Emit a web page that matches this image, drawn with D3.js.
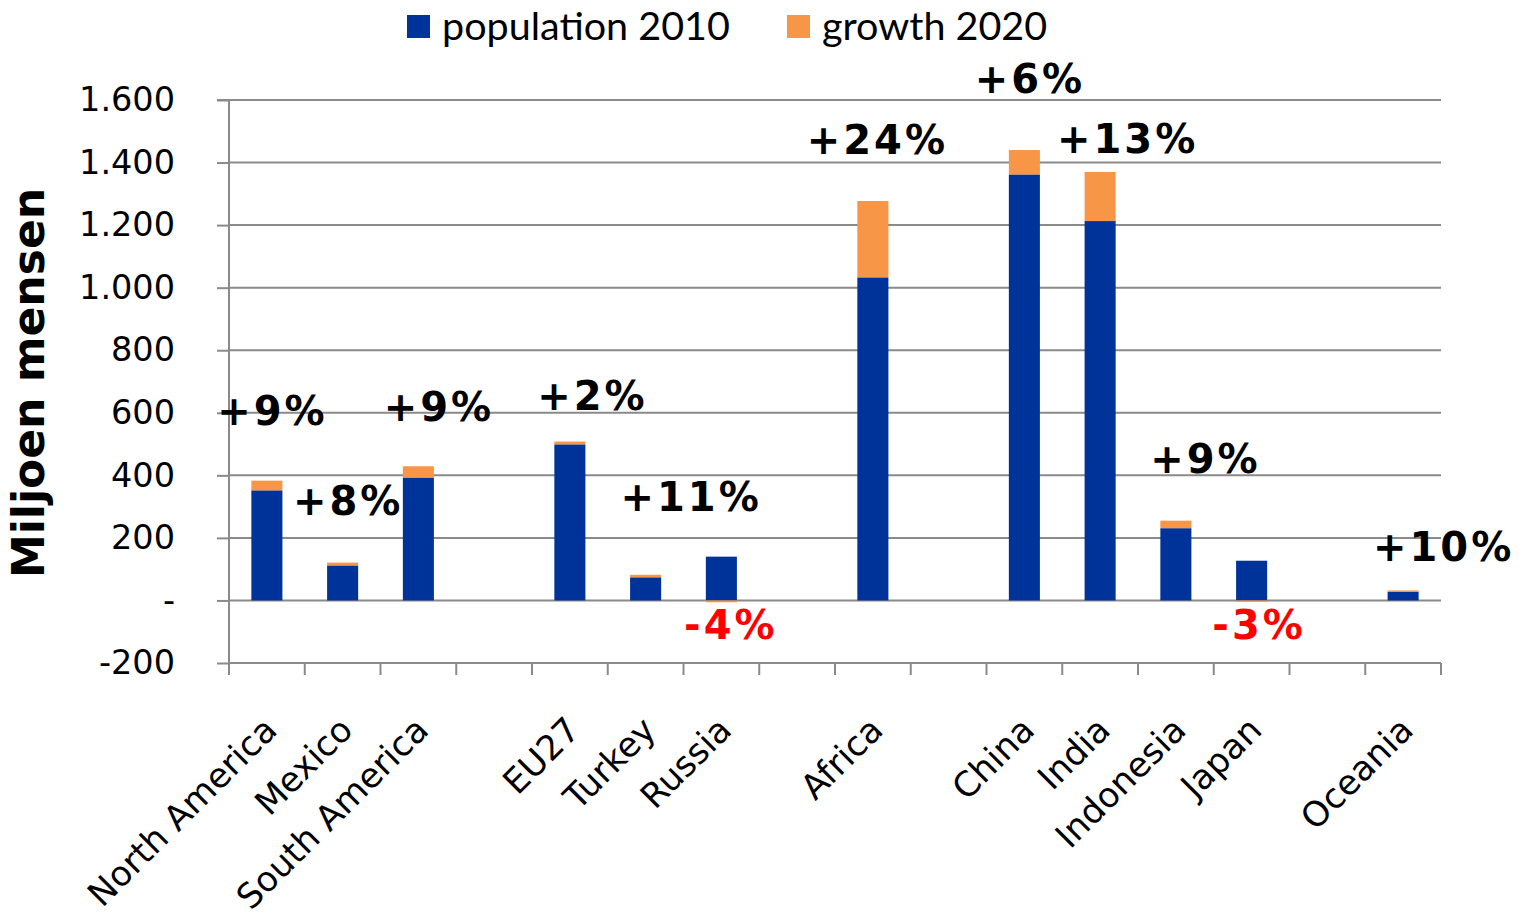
<!DOCTYPE html>
<html>
<head>
<meta charset="utf-8">
<script src="https://cdn.jsdelivr.net/npm/d3@7"></script>
<style>
  html, body { margin: 0; padding: 0; background: #fff; }
  svg { display: block; }
</style>
</head>
<body>
<svg id="chart" width="1529" height="916"></svg>
<script>
// ---- data ----
const categories = ["North America", "Mexico", "South America", "", "EU27", "Turkey", "Russia", "",
  "Africa", "", "China", "India", "Indonesia", "Japan", "", "Oceania"];
const population2010 = [352, 112, 393, 0, 499, 74, 140, 0, 1033, 0, 1362, 1213, 231, 127, 0, 27];
const growth2020 = [31, 9, 36, 0, 9, 8, -6, 0, 244, 0, 78, 157, 24, -4, 0, 5];
const growthLabels = ["+9%", "+8%", "+9%", "", "+2%", "+11%", "-4%", "", "+24%", "", "+6%", "+13%", "+9%", "-3%", "", "+10%"];
const yTicks = [-200, 0, 200, 400, 600, 800, 1000, 1200, 1400, 1600];
const seriesNames = ["population 2010", "growth 2020"];

// ---- layout (hand-placed label offsets, px) ----
const labelOffsets = [[4, -70], [4, -62], [19, -60], [0, 0], [21, -46], [44, -78], [8, 24], [0, 0],
  [3, -61], [0, 0], [4, -71], [26, -33], [28, -62], [6, 24], [0, 0], [39, -44]];
const colors = { pop: "#003399", growth: "#F79646" };

const svg = d3.select("#chart");
const plot = { left: 229, right: 1441, top: 100, bottom: 663 };

const rows = categories.map((c, i) => ({ idx: i, cat: c, pop: population2010[i], growth: growth2020[i] }));

const x = d3.scaleBand().domain(d3.range(categories.length)).range([plot.left, plot.right]).padding(0);
const y = d3.scaleLinear().domain([-200, 1600]).range([plot.bottom, plot.top]);

const locale = d3.formatLocale({ decimal: ",", thousands: ".", grouping: [3], currency: ["", ""], minus: "-" });
const fmt = locale.format(",");

// gridlines
svg.append("g").selectAll("line").data(yTicks).join("line")
  .attr("x1", plot.left).attr("x2", plot.right)
  .attr("y1", d => y(d)).attr("y2", d => y(d))
  .attr("stroke", "#8a8a8a").attr("stroke-width", 2);

// y axis
const yAxis = d3.axisLeft(y).tickValues(yTicks).tickSize(12).tickPadding(42)
  .tickFormat(d => d === 0 ? "-" : fmt(d));
const gy = svg.append("g").attr("transform", `translate(${plot.left},0)`).call(yAxis);
gy.select(".domain").attr("stroke", "#8a8a8a").attr("stroke-width", 2)
  .attr("d", `M-12,${plot.top}H0V${plot.bottom + 12}`);
gy.selectAll(".tick line").attr("stroke", "#8a8a8a").attr("stroke-width", 2);
gy.selectAll(".tick text").attr("font-family", "DejaVu Sans").attr("font-size", 33.5).attr("fill", "#000");

// x axis ticks (category boundaries) at bottom
const boundaries = d3.range(categories.length + 1).map(i => i === categories.length ? plot.right : x(i));
svg.append("g").selectAll("line").data(boundaries).join("line")
  .attr("x1", d => d).attr("x2", d => d)
  .attr("y1", plot.bottom).attr("y2", plot.bottom + 12)
  .attr("stroke", "#8a8a8a").attr("stroke-width", 2);

// stacked bars
const stack = d3.stack().keys(["pop", "growth"]).offset(d3.stackOffsetDiverging);
const series = stack(rows);
const barW = x.bandwidth() * 0.41;
svg.append("g").selectAll("g").data(series).join("g")
  .attr("fill", s => colors[s.key])
  .selectAll("rect").data(s => s.filter(d => d[1] !== d[0])).join("rect")
  .attr("x", d => x(d.data.idx) + (x.bandwidth() - barW) / 2)
  .attr("width", barW)
  .attr("y", d => y(Math.max(d[0], d[1])))
  .attr("height", d => Math.abs(y(d[0]) - y(d[1])));

// category labels
svg.append("g").selectAll("text").data(rows.filter(r => r.cat !== "")).join("text")
  .attr("transform", d => `translate(${x(d.idx) + x.bandwidth() / 2 + 12},${plot.bottom + 69}) rotate(-45)`)
  .attr("text-anchor", "end")
  .attr("font-family", "DejaVu Sans").attr("font-size", 34.5).attr("fill", "#000")
  .text(d => d.cat);

// growth percentage labels
svg.append("g").selectAll("text").data(rows.filter(r => growthLabels[r.idx] !== "")).join("text")
  .attr("x", d => x(d.idx) + x.bandwidth() / 2 + labelOffsets[d.idx][0] + 1.5)
  .attr("y", d => (d.growth < 0 ? y(0) : y(d.pop + d.growth)) + labelOffsets[d.idx][1])
  .attr("dy", "0.36em")
  .attr("text-anchor", "middle")
  .attr("font-family", "DejaVu Sans").attr("font-weight", "bold").attr("font-size", 40)
  .attr("letter-spacing", 3)
  .attr("fill", d => d.growth < 0 ? "#FF0000" : "#000")
  .text(d => growthLabels[d.idx]);

// y axis title
svg.append("text")
  .attr("transform", `translate(44,383) rotate(-90)`)
  .attr("text-anchor", "middle")
  .attr("font-family", "DejaVu Sans").attr("font-weight", "bold").attr("font-size", 44)
  .attr("fill", "#000")
  .text("Miljoen mensen");

// legend
const legendPos = [{ sx: 407, tx: 442 }, { sx: 787, tx: 822 }];
const legend = svg.append("g").selectAll("g").data(["pop", "growth"]).join("g");
legend.append("rect")
  .attr("x", (d, i) => legendPos[i].sx).attr("y", 15).attr("width", 23).attr("height", 23)
  .attr("fill", d => colors[d]);
legend.append("text")
  .attr("x", (d, i) => legendPos[i].tx).attr("y", 40)
  .attr("font-family", "Lato").attr("font-size", 39.5).attr("fill", "#000")
  .text((d, i) => seriesNames[i]);
</script>
</body>
</html>
